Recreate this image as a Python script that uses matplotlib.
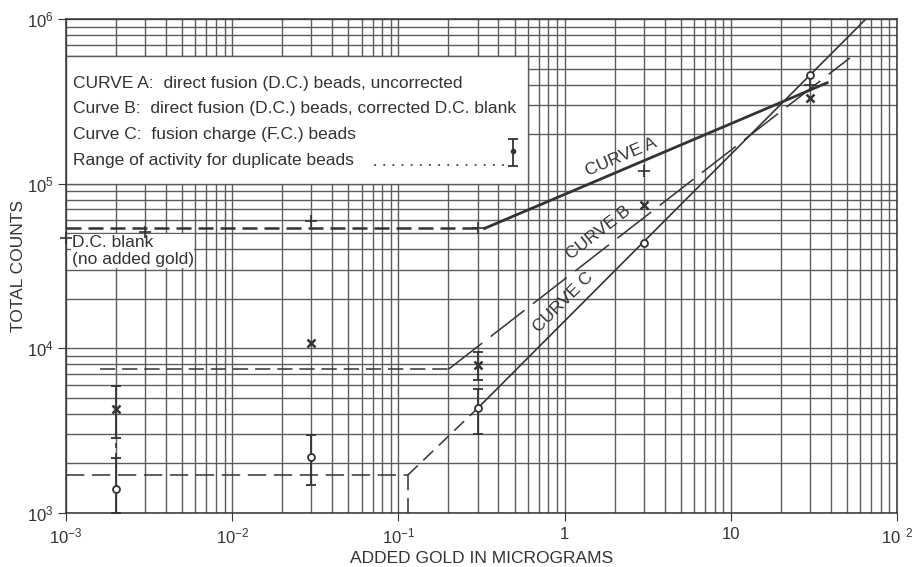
import matplotlib
matplotlib.use("Agg")
import matplotlib.pyplot as plt
from matplotlib.patches import Rectangle
from matplotlib.ticker import LogLocator, NullFormatter
import numpy as np

plt.rcParams["font.family"] = ["Liberation Sans", "DejaVu Sans"]
plt.rcParams["mathtext.default"] = "regular"

INK = "#333333"
GRID = "#5c5c5c"

# measured points: "+" curve A, "x" curve B, "o" curve C
a_gold = [0.001, 0.003, 0.03, 0.3, 3, 30]
a_counts = [4.7e4, 5.1e4, 5.9e4, 5.35e4, 1.2e5, 3.95e5]

b_gold = [0.002, 0.03, 0.3, 3, 30]
b_counts = [4.3e3, 1.08e4, 7.9e3, 7.4e4, 3.3e5]
b_range_gold = [0.002, 0.3]
b_range_lo = [2.85e3, 6.4e3]
b_range_hi = [5.9e3, 9.5e3]

c_gold = [0.002, 0.03, 0.3, 3, 30]
c_counts = [1.39e3, 2.18e3, 4.33e3, 4.35e4, 4.6e5]
c_range_gold = [0.002, 0.03, 0.3]
c_range_lo = [1.0e3, 1.47e3, 3.0e3]
c_range_hi = [2.15e3, 2.98e3, 5.7e3]

# fitted curves
blank_a_x = [1e-3, 0.33]
blank_a_y = [5.35e4, 5.35e4]
curve_a_x = [0.33, 38]
curve_a_y = [5.35e4, 4.1e5]

blank_b_x = [1.6e-3, 0.2]
blank_b_y = [7.46e3, 7.46e3]
curve_b_x = [0.2, 52]
curve_b_y = [7.46e3, 5.8e5]

blank_c_x = [1e-3, 0.114]
blank_c_y = [1.7e3, 1.7e3]
drop_c_x = [0.114, 0.114]
drop_c_y = [1.7e3, 1e3]
join_c_x = [0.114, 0.3]
join_c_y = [1.7e3, 4.33e3]
curve_c_x = [0.3, 65]
curve_c_y = [4.33e3, 1e6]

xticks = [1e-3, 1e-2, 1e-1, 1, 10, 100]
xtick_labels = [r"$10^{-3}$", r"$10^{-2}$", r"$10^{-1}$", "1", "10", r"$10\ ^{2}$"]
yticks = [1e3, 1e4, 1e5, 1e6]
ytick_labels = [r"$10^{3}$", r"$10^{4}$", r"$10^{5}$", r"$10^{6}$"]

legend_lines = [
    "CURVE A:  direct fusion (D.C.) beads, uncorrected",
    "Curve B:  direct fusion (D.C.) beads, corrected D.C. blank",
    "Curve C:  fusion charge (F.C.) beads",
    "Range of activity for duplicate beads",
]

fig = plt.figure(figsize=(9.17, 5.67), dpi=100)
ax = fig.add_axes([66 / 917, 54 / 567, 831 / 917, 494 / 567])
ax.set_xscale("log")
ax.set_yscale("log")
ax.set_xlim(1e-3, 1e2)
ax.set_ylim(1e3, 1e6)
ax.set_axisbelow(True)
for s in ax.spines.values():
    s.set_color(INK)
    s.set_linewidth(1.1)

ax.set_xticks(xticks)
ax.set_xticklabels(xtick_labels)
ax.set_yticks(yticks)
ax.set_yticklabels(ytick_labels)
ax.xaxis.set_minor_locator(LogLocator(subs=np.arange(2, 10)))
ax.yaxis.set_minor_locator(LogLocator(subs=np.arange(2, 10)))
ax.xaxis.set_minor_formatter(NullFormatter())
ax.yaxis.set_minor_formatter(NullFormatter())
ax.grid(True, which="both", color=GRID, lw=1.0)
ax.tick_params(which="minor", length=0)
ax.tick_params(which="major", direction="out", length=6, color=INK,
               labelcolor=INK, labelsize=12)
ax.tick_params(axis="x", pad=4)
ax.tick_params(axis="y", pad=3)

ax.set_xlabel("ADDED GOLD IN MICROGRAMS", fontsize=12.5, color=INK)
ax.xaxis.set_label_coords(0.5, -0.093)
ax.xaxis.label.set_va("center")
ax.set_ylabel("TOTAL COUNTS", fontsize=12.5, color=INK)
ax.yaxis.set_label_coords(-0.057, 0.5)
ax.yaxis.label.set_va("center")

# white panel for the key
ax.add_patch(Rectangle((1e-3, 1e5), 0.6 - 1e-3, 6e5 - 1e5, facecolor="white",
                       edgecolor=GRID, lw=1.0, zorder=1.5))

# curve A
ax.plot(blank_a_x, blank_a_y, color=INK, lw=1.8, dashes=(6, 2.8), zorder=3)
ax.plot(curve_a_x, curve_a_y, color=INK, lw=2.0, zorder=3)
# curve B
ax.plot(blank_b_x, blank_b_y, color=INK, lw=1.1, dashes=(10, 4.5), zorder=3)
ax.plot(curve_b_x, curve_b_y, color=INK, lw=1.1, dashes=(28, 7), zorder=3)
# curve C
ax.plot(blank_c_x, blank_c_y, color=INK, lw=1.1, dashes=(12, 5), zorder=3)
ax.plot(drop_c_x, drop_c_y, color=INK, lw=1.1, dashes=(10, 5), zorder=3)
ax.plot(join_c_x, join_c_y, color=INK, lw=1.1, dashes=(9, 5), zorder=3)
ax.plot(curve_c_x, curve_c_y, color=INK, lw=1.2, zorder=3)

# duplicate bead ranges
for gx, lo, hi in [(b_range_gold, b_range_lo, b_range_hi),
                   (c_range_gold, c_range_lo, c_range_hi)]:
    gx = np.array(gx)
    lo = np.array(lo)
    hi = np.array(hi)
    mid = np.sqrt(lo * hi)
    ax.errorbar(gx, mid, yerr=[mid - lo, hi - mid], fmt="none", ecolor=INK,
                elinewidth=1.3, capsize=3.5, capthick=1.3, zorder=4)
# gap between the two ranges at the lowest dose
ax.plot([b_range_gold[0], b_range_gold[0]], [c_range_hi[0], b_range_lo[0]],
        color=INK, lw=1.2, dashes=(3, 3), zorder=4)

# curve labels
ax.text(2.2, 1.45e5, "CURVE A", rotation=23, ha="center", va="center",
        rotation_mode="anchor", fontsize=12.5, color=INK, zorder=6)
ax.text(1.59, 5.0e4, "CURVE B", rotation=38, ha="center", va="center",
        rotation_mode="anchor", fontsize=12.5, color=INK, zorder=6)
ax.text(0.98, 1.9e4, "CURVE C", rotation=45, ha="center", va="center",
        rotation_mode="anchor", fontsize=12.5, color=INK, zorder=6)

ax.text(1.08e-3, 3.9e4, "D.C. blank\n(no added gold)", ha="left", va="center",
        fontsize=12.5, color=INK, linespacing=1.2, zorder=6,
        bbox=dict(facecolor="white", edgecolor="none", pad=0.5))

ax.plot(a_gold, a_counts, ls="none", marker="+", ms=8, mew=1.2, color=INK,
        zorder=7, clip_on=False)
ax.plot(b_gold, b_counts, ls="none", marker="x", ms=6, mew=1.8, color=INK, zorder=7)
ax.plot(c_gold, c_counts, ls="none", marker="o", ms=5, mew=1.3, mfc="white",
        mec=INK, zorder=7)

# key text
key_y = [10 ** 5.611, 10 ** 5.454, 10 ** 5.296, 10 ** 5.138]
for line, ky in zip(legend_lines, key_y):
    ax.text(1.1e-3, ky, line, ha="left", va="center", fontsize=12.5,
            color=INK, zorder=6)
ax.plot([0.072, 0.43], [1.3e5, 1.3e5], color=INK, lw=1.4,
        dashes=(0.1, 4.6), dash_capstyle="round", zorder=6)
ax.errorbar([0.49], [1.58e5], yerr=[[1.58e5 - 1.28e5], [1.86e5 - 1.58e5]],
            fmt="o", ms=3, color=INK, elinewidth=1.3, capsize=3.5,
            capthick=1.3, zorder=6)

fig.savefig("out.png", dpi=100, facecolor="white")
